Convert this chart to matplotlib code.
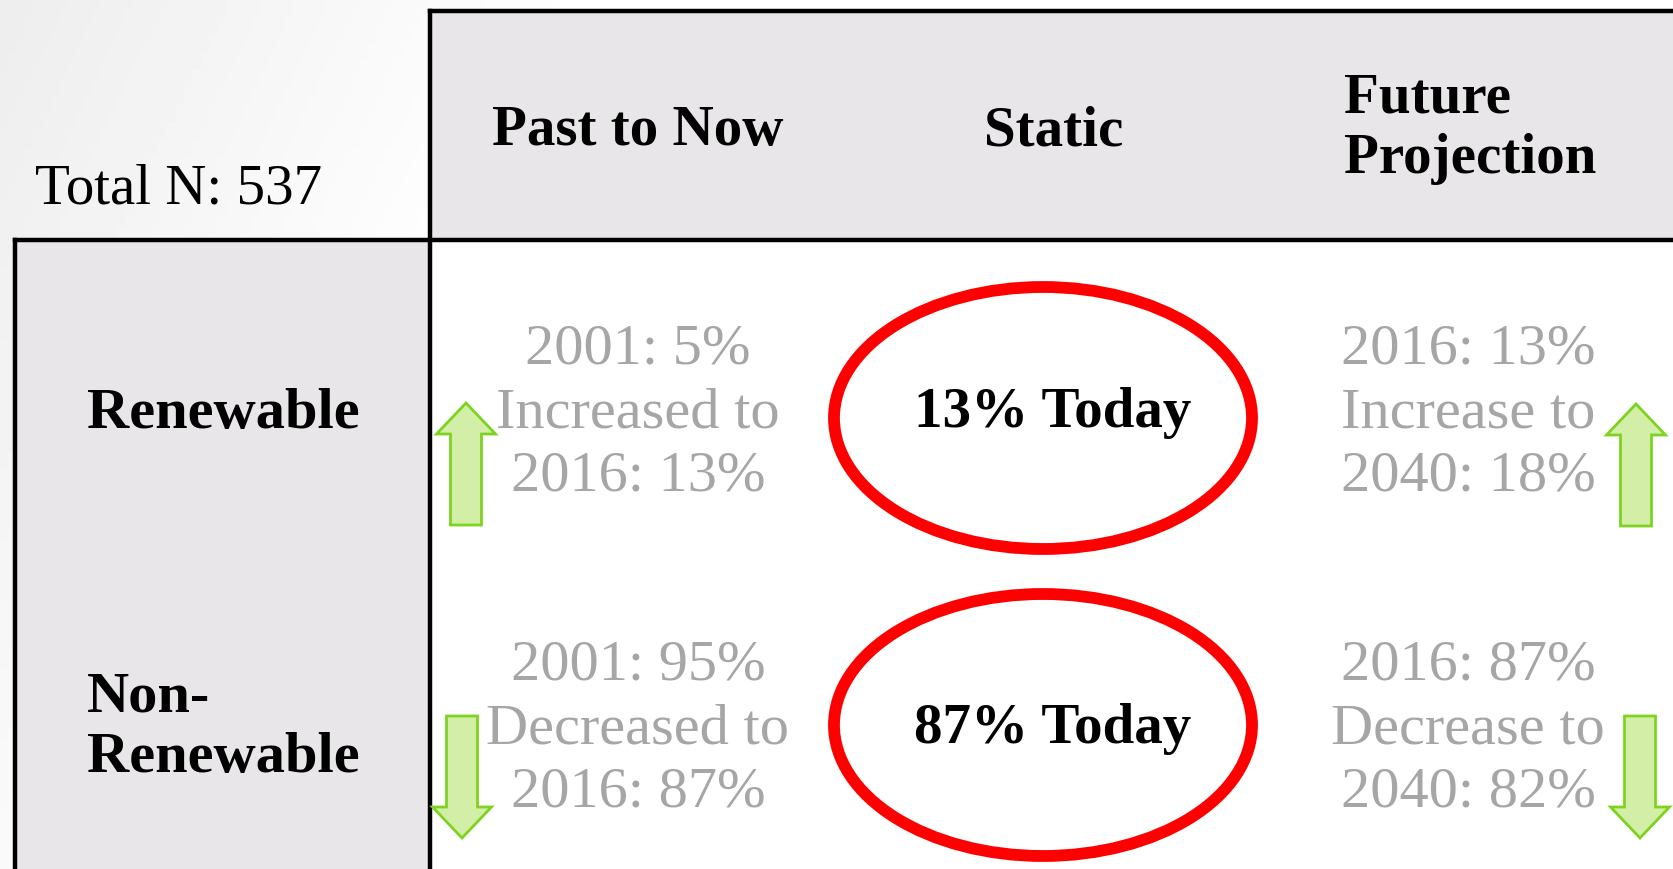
import numpy as np
import matplotlib.pyplot as plt
import matplotlib.patches as mpatches

# Table content
total_label = "Total N: 537"
col_headers = ["Past to Now", "Static", "Future\nProjection"]
row_headers = ["Renewable", "Non-\nRenewable"]
past_text = ["2001: 5%\nIncreased to\n2016: 13%",
             "2001: 95%\nDecreased to\n2016: 87%"]
static_text = ["13% Today", "87% Today"]
future_text = ["2016: 13%\nIncrease to\n2040: 18%",
               "2016: 87%\nDecrease to\n2040: 82%"]
trend = ["up", "down"]

W, H = 1673, 869
fig = plt.figure(figsize=(W / 100, H / 100), dpi=100)
ax = fig.add_axes([0, 0, 1, 1])
ax.set_xlim(0, W)
ax.set_ylim(H, 0)
ax.axis("off")

serif = ["Liberation Serif", "DejaVu Serif"]
gray_box = "#E8E6E8"
gray_text = "#A6A6A6"
green_face = "#D3EEA6"
green_edge = "#7ED321"

# soft grey gradient in the top-left background
xx, yy = np.meshgrid(np.linspace(0, 1, 200), np.linspace(0, 1, 100))
grad = np.clip(1 - (xx * 1.0 + yy * 0.25) / 0.35, 0, 1)
ax.imshow(1 - 0.07 * grad, cmap="gray", vmin=0, vmax=1, extent=[0, W, H, 0],
          aspect="auto", zorder=0)

# grid geometry
left, col0, top, hdr = 15, 430, 11, 240
col_centers = [638, 1043, 1468]
row_centers = [411, 727]

# header band and row header band
ax.add_patch(mpatches.Rectangle((col0, top), W - col0, hdr - top,
                                facecolor=gray_box, edgecolor="none", zorder=1))
ax.add_patch(mpatches.Rectangle((left, hdr), col0 - left, H - hdr,
                                facecolor=gray_box, edgecolor="none", zorder=1))
ax.add_patch(mpatches.Rectangle((col0, hdr), W - col0, H - hdr,
                                facecolor="white", edgecolor="none", zorder=1))
lw = 3.2
ax.plot([col0, W], [top, top], color="black", lw=lw, zorder=3)
ax.plot([col0, col0], [top, H], color="black", lw=lw, zorder=3)
ax.plot([left, W], [hdr, hdr], color="black", lw=lw, zorder=3)
ax.plot([left, left], [hdr, H], color="black", lw=lw, zorder=3)

ax.text(35, 190, total_label, ha="left", va="center", fontsize=41,
        family=serif, color="black", zorder=4)

# column headers
ax.text(col_centers[0], 131, col_headers[0], ha="center", va="center",
        fontsize=41, fontweight="bold", family=serif, zorder=4)
ax.text(col_centers[1] + 11, 131, col_headers[1], ha="center", va="center",
        fontsize=41, fontweight="bold", family=serif, zorder=4)
ax.text(1344, 129, col_headers[2], ha="left", va="center", fontsize=41,
        fontweight="bold", family=serif, linespacing=1.22, zorder=4)

# row headers
ax.text(87, row_centers[0] + 3, row_headers[0], ha="left", va="center",
        fontsize=42, fontweight="bold", family=serif, zorder=4)
ax.text(87, row_centers[1] + 1, row_headers[1], ha="left", va="center",
        fontsize=42, fontweight="bold", family=serif, linespacing=1.22, zorder=4)


def arrow(xc, direction, yc):
    # block arrow centred at (xc, yc)
    length, shaft, head_w, head_l = 122, 31, 59, 31
    if direction == "up":
        y0, dy = yc + length / 2, -(length - head_l)
    else:
        y0, dy = yc - length / 2, (length - head_l)
    ax.add_patch(mpatches.FancyArrow(xc, y0, 0, dy, width=shaft,
                                     head_width=head_w, head_length=head_l,
                                     length_includes_head=False,
                                     facecolor=green_face, edgecolor=green_edge,
                                     lw=2.0, zorder=5))


ellipse_dy = [7, -2]
for i, yc in enumerate(row_centers):
    ax.text(col_centers[0], yc + 2, past_text[i], ha="center", va="center",
            fontsize=42, family=serif, color=gray_text, linespacing=1.28, zorder=4)
    ax.text(col_centers[2], yc + 2, future_text[i], ha="center", va="center",
            fontsize=42, family=serif, color=gray_text, linespacing=1.28, zorder=4)
    ax.add_patch(mpatches.Ellipse((col_centers[1], yc + ellipse_dy[i]), 418, 262,
                                  facecolor="none", edgecolor="#FF0000",
                                  lw=8.5, zorder=4))
    ax.text(col_centers[1] + 10, yc + 2, static_text[i], ha="center", va="center",
            fontsize=41, fontweight="bold", family=serif, zorder=5)
    if trend[i] == "up":
        arrow(466, "up", 464)
        arrow(1636, "up", 465)
    else:
        arrow(462, "down", 777)
        arrow(1640, "down", 777)

fig.savefig("out.png", dpi=100)
